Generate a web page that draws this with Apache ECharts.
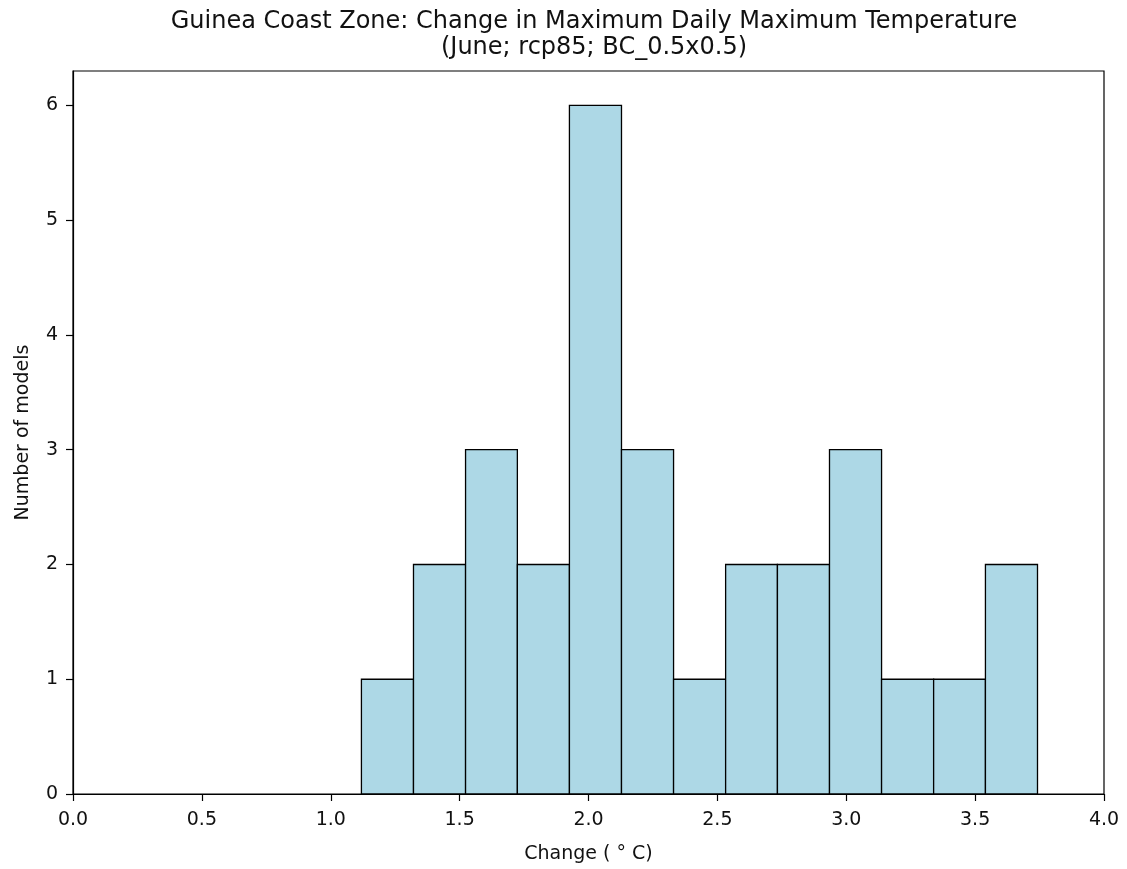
<!DOCTYPE html>
<html>
<head>
<meta charset="utf-8">
<script src="https://cdn.jsdelivr.net/npm/echarts@6/dist/echarts.min.js"></script>
<style>html,body{margin:0;padding:0;background:#fff;}#c{width:1127px;height:869px;}</style>
</head>
<body>
<div id="c"></div>
<script>
const binEdges = [1.119, 1.321, 1.523, 1.724, 1.926, 2.128, 2.330, 2.532, 2.733, 2.935, 3.137, 3.339, 3.540, 3.742];
const counts = [1, 2, 3, 2, 6, 3, 1, 2, 2, 3, 1, 1, 2];
const xTicks = [0.0, 0.5, 1.0, 1.5, 2.0, 2.5, 3.0, 3.5, 4.0];
const yTicks = [0, 1, 2, 3, 4, 5, 6];
const titleLine1 = 'Guinea Coast Zone: Change in Maximum Daily Maximum Temperature';
const titleLine2 = '(June; rcp85; BC_0.5x0.5)';
const xLabel = 'Change ( ° C)';
const yLabel = 'Number of models';

const data = counts.map((c, i) => [binEdges[i], binEdges[i + 1], c]);
const FONT = 'DejaVu Sans';
const chart = echarts.init(document.getElementById('c'), null, {renderer: 'canvas'});
chart.setOption({
  animation: false,
  backgroundColor: '#fff',
  title: {
    text: titleLine1 + '\n' + titleLine2,
    left: 589, top: 4, textAlign: 'center',
    textStyle: {fontFamily: FONT, fontSize: 24, fontWeight: 'normal', color: '#111', lineHeight: 26}
  },
  grid: {left: 73, right: 23, top: 71, bottom: 74, show: true, borderColor: '#000', borderWidth: 1.2},
  xAxis: {
    type: 'value', min: 0, max: 4,
    name: xLabel, nameLocation: 'middle', nameGap: 51,
    nameTextStyle: {fontFamily: FONT, fontSize: 19, color: '#111'},
    axisLine: {show: true, onZero: false, lineStyle: {color: '#000', width: 1.2}},
    axisTick: {show: true, length: 7, customValues: xTicks, lineStyle: {color: '#000', width: 1.2}},
    axisLabel: {fontFamily: FONT, fontSize: 19, color: '#111', margin: 17, customValues: xTicks,
      formatter: v => Number(v).toFixed(1)},
    splitLine: {show: false}
  },
  yAxis: {
    type: 'value', min: 0, max: 6.3,
    name: yLabel, nameLocation: 'middle', nameGap: 40, nameRotate: 90,
    nameTextStyle: {fontFamily: FONT, fontSize: 19, color: '#111'},
    axisLine: {show: true, lineStyle: {color: '#000', width: 1.2}},
    axisTick: {show: true, length: 7, customValues: yTicks, lineStyle: {color: '#000', width: 1.2}},
    axisLabel: {fontFamily: FONT, fontSize: 19, color: '#111', margin: 15, customValues: yTicks,
      formatter: v => String(v)},
    splitLine: {show: false}
  },
  series: [{
    type: 'custom',
    data: data,
    encode: {x: [0, 1], y: 2},
    renderItem: function (params, api) {
      const p0 = api.coord([api.value(0), 0]);
      const p1 = api.coord([api.value(1), api.value(2)]);
      return {
        type: 'rect',
        shape: {x: p0[0], y: p1[1], width: p1[0] - p0[0], height: p0[1] - p1[1]},
        style: {fill: '#add8e6', stroke: '#000', lineWidth: 1.3}
      };
    }
  }]
});
</script>
</body>
</html>
